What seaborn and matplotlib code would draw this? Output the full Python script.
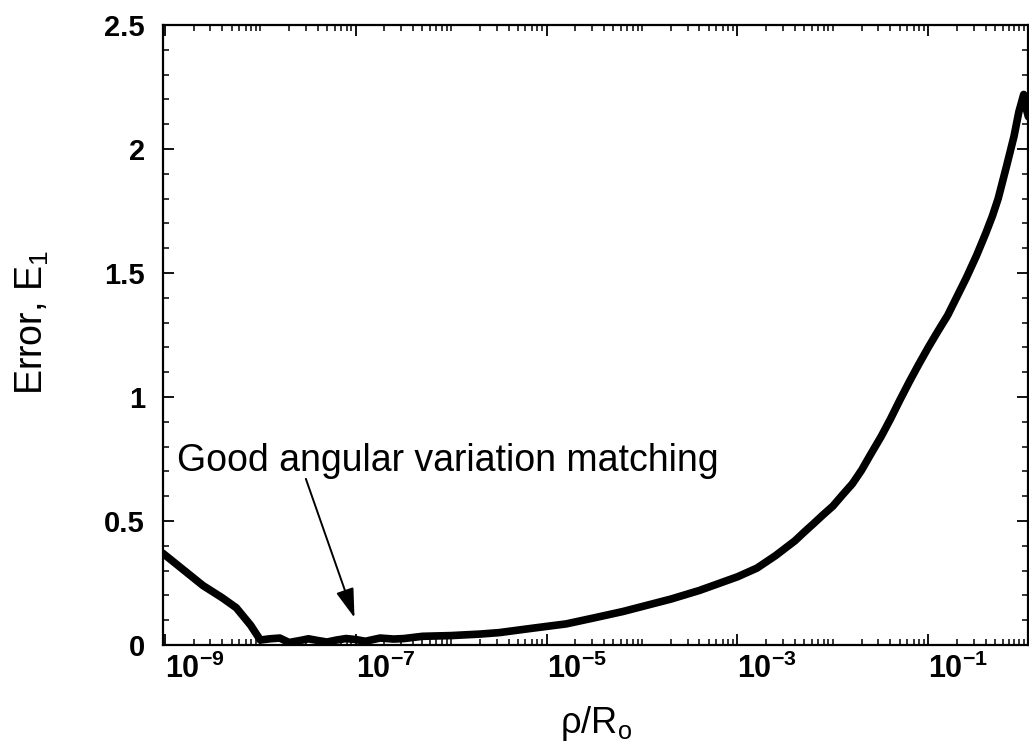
import matplotlib
matplotlib.use("Agg")
import matplotlib.pyplot as plt
import seaborn as sns
import pandas as pd
from matplotlib.ticker import LogLocator, MultipleLocator, FixedLocator, NullFormatter

# ---- data ----
rho_over_R0 = [9.5e-10, 1.6e-9, 2.5e-9, 4.0e-9, 5.6e-9, 7.9e-9, 1.0e-8, 1.26e-8,
               1.6e-8, 2.0e-8, 2.6e-8, 3.2e-8, 4.0e-8, 5.0e-8, 6.3e-8, 7.9e-8,
               1.0e-7, 1.26e-7, 1.8e-7, 2.5e-7, 3.2e-7, 5.0e-7, 1.0e-6, 2.0e-6,
               3.2e-6, 6.3e-6, 1.0e-5, 1.6e-5, 3.2e-5, 6.3e-5, 1.0e-4, 2.0e-4,
               4.0e-4, 1.0e-3, 1.6e-3, 2.5e-3, 4.0e-3, 5.0e-3, 6.3e-3, 7.9e-3,
               1.0e-2, 1.26e-2, 1.6e-2, 2.0e-2, 2.5e-2, 3.2e-2, 4.0e-2, 5.0e-2,
               6.3e-2, 7.9e-2, 0.1, 0.126, 0.16, 0.2, 0.25, 0.32, 0.4, 0.47,
               0.54, 0.66, 0.79, 0.89, 1.0, 1.05, 1.12]
error_E1 = [0.37, 0.30, 0.24, 0.19, 0.15, 0.08, 0.02, 0.025,
            0.028, 0.010, 0.018, 0.025, 0.018, 0.012, 0.020, 0.026,
            0.022, 0.015, 0.028, 0.024, 0.026, 0.035, 0.038, 0.044,
            0.050, 0.065, 0.075, 0.085, 0.110, 0.135, 0.155, 0.185,
            0.220, 0.275, 0.310, 0.360, 0.420, 0.455, 0.490, 0.525,
            0.560, 0.605, 0.650, 0.705, 0.770, 0.840, 0.910, 0.985,
            1.060, 1.130, 1.200, 1.265, 1.330, 1.405, 1.480, 1.570, 1.660, 1.730,
            1.800, 1.930, 2.050, 2.150, 2.220, 2.170, 2.130]

x_tick_values = [1e-9, 1e-7, 1e-5, 1e-3, 1e-1]
x_tick_labels = [r"$\mathbf{10^{-9}}$", r"$\mathbf{10^{-7}}$", r"$\mathbf{10^{-5}}$",
                 r"$\mathbf{10^{-3}}$", r"$\mathbf{10^{-1}}$"]
y_tick_values = [0, 0.5, 1, 1.5, 2, 2.5]
y_tick_labels = ["0", "0.5", "1", "1.5", "2", "2.5"]
annotation_text = "Good angular variation matching"

df = pd.DataFrame({"rho": rho_over_R0, "err": error_E1})

sns.set_style("ticks")
plt.rcParams["font.family"] = ["Liberation Sans", "DejaVu Sans"]
plt.rcParams["mathtext.fontset"] = "custom"
plt.rcParams["mathtext.rm"] = "Liberation Sans"
plt.rcParams["mathtext.it"] = "Liberation Sans:italic"
plt.rcParams["mathtext.bf"] = "Liberation Sans:bold"
for k in ["text.color", "axes.labelcolor", "xtick.color", "ytick.color", "axes.edgecolor"]:
    plt.rcParams[k] = "black"

fig = plt.figure(figsize=(10.29, 7.51), dpi=100)
ax = fig.add_axes([163 / 1029, 106 / 751, (1028 - 163) / 1029, (645 - 25) / 751])

sns.lineplot(data=df, x="rho", y="err", ax=ax, color="black", linewidth=5.5,
             sort=False, estimator=None)
ax.lines[0].set_solid_joinstyle("round")
ax.lines[0].set_solid_capstyle("round")

ax.set_xscale("log")
ax.set_xlim(10 ** -9.02, 10 ** 0.045)
ax.set_ylim(0, 2.5)

ax.xaxis.set_major_locator(FixedLocator(x_tick_values))
ax.set_xticks(x_tick_values)
ax.set_xticklabels(x_tick_labels, fontsize=22, ha="left")
ax.xaxis.set_minor_locator(LogLocator(base=10, subs=[1, 2, 3, 4, 5, 6, 7, 8, 9], numticks=30))
ax.xaxis.set_minor_formatter(NullFormatter())

ax.set_yticks(y_tick_values)
ax.set_yticklabels(y_tick_labels, fontsize=21, fontweight="bold")
ax.yaxis.set_minor_locator(MultipleLocator(0.1))

ax.tick_params(axis="both", which="major", direction="in", top=True, right=True,
               length=8, width=1.3, color="black")
ax.tick_params(axis="both", which="minor", direction="in", top=True, right=True,
               length=4, width=1.1, color="black")
ax.tick_params(axis="x", which="major", pad=6)
ax.tick_params(axis="y", which="major", pad=13)

for s in ax.spines.values():
    s.set_linewidth(1.6)
    s.set_color("black")

ax.set_xlabel(r"ρ/R$_{\mathrm{o}}$", fontsize=26)
ax.set_ylabel(r"Error, E$_{1}$", fontsize=27)
ax.xaxis.set_label_coords(0.5, -0.095)
ax.yaxis.set_label_coords(-0.13, 0.52)

ax.text(1.35e-9, 0.74, annotation_text, fontsize=27, va="center", ha="left")
ax.annotate("", xy=(9.7e-8, 0.11), xytext=(3.0e-8, 0.67),
            arrowprops=dict(arrowstyle="-|>,head_length=0.9,head_width=0.28",
                            lw=1.4, color="black", mutation_scale=20,
                            shrinkA=0, shrinkB=0))

fig.savefig("out.png", dpi=100, facecolor="white")
